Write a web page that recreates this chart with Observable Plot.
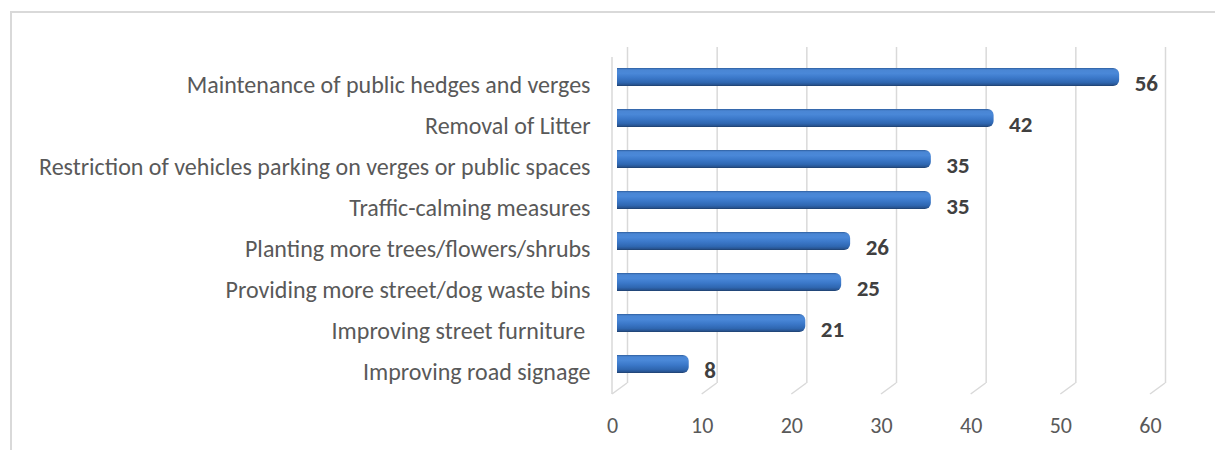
<!DOCTYPE html>
<html>
<head>
<meta charset="utf-8">
<script src="https://cdn.jsdelivr.net/npm/d3@7"></script>
<script src="https://cdn.jsdelivr.net/npm/@observablehq/plot@0.6"></script>
<style>
  html, body { margin: 0; padding: 0; background: #fff; }
  #wrap { position: relative; width: 1215px; height: 450px; overflow: hidden; }
  #border { position: absolute; left: 10px; top: 11px; width: 1300px; height: 600px;
            border-top: 2px solid #d9d9d9; border-left: 2px solid #d9d9d9; pointer-events: none; }
  svg { display: block; }
</style>
</head>
<body>
<div id="wrap"><div id="border"></div></div>
<script>
const categories = [
  "Maintenance of public hedges and verges",
  "Removal of Litter",
  "Restriction of vehicles parking on verges or public spaces",
  "Traffic-calming measures",
  "Planting more trees/flowers/shrubs",
  "Providing more street/dog waste bins",
  "Improving street furniture ",
  "Improving road signage"
];
const values = [56, 42, 35, 35, 26, 25, 21, 8];
const xTicks = [0, 10, 20, 30, 40, 50, 60];

const data = categories.map((c, i) => ({c, v: values[i]}));
const font = "Carlito, Lato, sans-serif";
const gridColor = "#d9d9d9";

// 3D floor: diagonal from back wall to front edge for every tick, plus front wall edge
function floor(index, scales, values, dimensions) {
  const g = d3.create("svg:g").attr("stroke", gridColor).attr("stroke-width", 1.5).attr("fill", "none");
  const yb = dimensions.height - dimensions.marginBottom;
  for (const t of xTicks) {
    const x = scales.x(t);
    g.append("line").attr("x1", x + 15).attr("y1", yb).attr("x2", x).attr("y2", yb + 11);
  }
  const x0 = scales.x(0);
  g.append("line").attr("x1", x0).attr("y1", dimensions.marginTop + 10).attr("x2", x0).attr("y2", yb + 11);
  return g.node();
}

const plot = Plot.plot({
  width: 1215,
  height: 450,
  marginTop: 47,
  marginBottom: 67,
  marginLeft: 612,
  marginRight: 65,
  style: {fontFamily: font, color: "#595959", background: "transparent"},
  x: {domain: [0, 60]},
  y: {domain: categories, range: [53, 388], paddingInner: 0.57, paddingOuter: 0.285},
  marks: [
    Plot.ruleX(xTicks, {dx: 15, stroke: gridColor, strokeWidth: 1.5}),
    floor,
    Plot.barX(data, {x: "v", y: "c", fill: "url(#barGrad)", rx: 6, dx: 5}),
    Plot.barX(data, {x1: 0, x2: d => d.v / 2, y: "c", fill: "url(#barGrad)", dx: 5}),
    Plot.text(data, {x: "v", y: "c", text: d => String(d.v), textAnchor: "start", dx: 20, dy: 6,
                     fontWeight: "bold", fontSize: 23, fill: "#404040", fontFamily: font}),
    Plot.axisY({tickSize: 0, tickPadding: 22, fontSize: 24, dy: 8, label: null, color: "#595959"}),
    Plot.axisX({ticks: xTicks, tickSize: 0, tickPadding: 34, fontSize: 22, label: null, color: "#595959"})
  ]
});

const defs = d3.select(plot).insert("defs", ":first-child");
const grad = defs.append("linearGradient").attr("id", "barGrad")
  .attr("x1", 0).attr("y1", 0).attr("x2", 0).attr("y2", 1);
[
  [0, "#2e5e9e"], [0.1, "#4a86d4"], [0.3, "#4a88d8"], [0.55, "#3b78c9"],
  [0.8, "#2f67b1"], [0.92, "#285593"], [1, "#1e3f6c"]
].forEach(([o, c]) => grad.append("stop").attr("offset", o).attr("stop-color", c));

document.getElementById("wrap").appendChild(plot);
</script>
</body>
</html>
